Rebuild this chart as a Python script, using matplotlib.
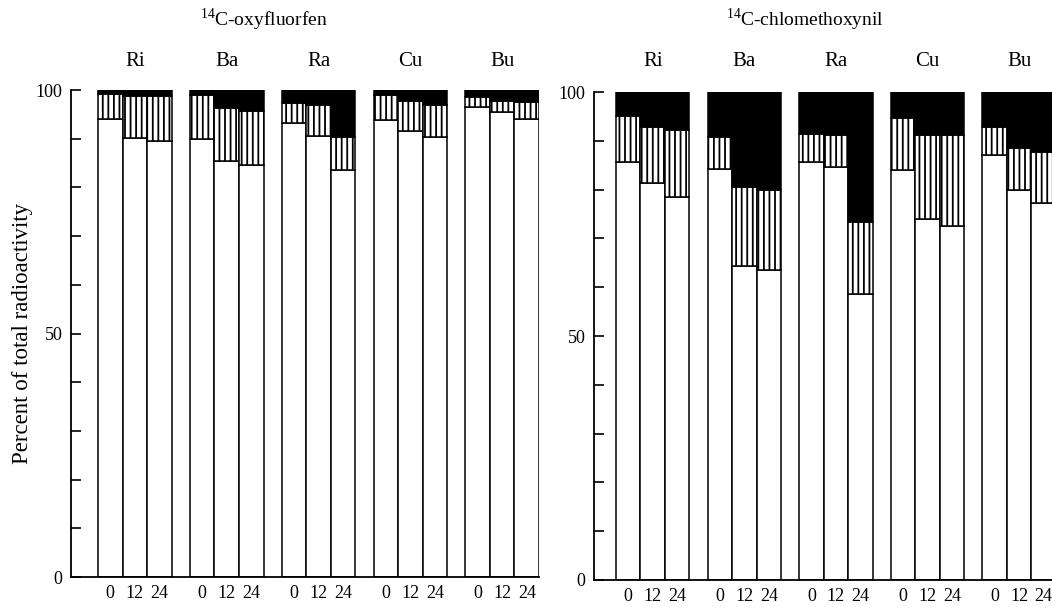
import matplotlib
matplotlib.use('Agg')
import matplotlib.pyplot as plt
import matplotlib.transforms as mtransforms
import numpy as np

plt.rcParams['font.family'] = ['Liberation Serif', 'DejaVu Serif']
plt.rcParams['mathtext.fontset'] = 'custom'
plt.rcParams['mathtext.rm'] = 'Liberation Serif'
plt.rcParams['hatch.linewidth'] = 1.3

plants = ['Ri', 'Ba', 'Ra', 'Cu', 'Bu']
hours = ['0', '12', '24']

# 14C-oxyfluorfen: white = parent, hatched = metabolites, black = bound
oxy_white = [94.1, 90.2, 89.6,  90.0, 85.4, 84.7,  93.3, 90.5, 83.6,
             93.9, 91.5, 90.3,  96.5, 95.4, 94.0]
oxy_hatch = [5.1, 8.5, 9.1,  9.0, 10.9, 10.9,  4.1, 6.5, 6.7,
             5.1, 6.2, 6.7,  2.1, 2.3, 3.5]
oxy_black = [0.8, 1.3, 1.3,  1.0, 3.7, 4.4,  2.6, 3.0, 9.7,
             1.0, 2.3, 3.0,  1.4, 2.3, 2.5]

# 14C-chlomethoxynil
chl_white = [85.6, 81.4, 78.5,  84.3, 64.3, 63.6,  85.6, 84.7, 58.7,
             84.0, 74.0, 72.6,  87.0, 79.9, 77.3]
chl_hatch = [9.4, 11.4, 13.8,  6.4, 16.3, 16.4,  5.7, 6.5, 14.6,
             10.7, 17.2, 18.6,  5.8, 8.6, 10.4]
chl_black = [5.0, 7.2, 7.7,  9.3, 19.4, 20.0,  8.7, 8.8, 26.7,
             5.3, 8.8, 8.8,  7.2, 11.5, 12.3]

step = 3.74
x = np.array([g * step + i for g in range(len(plants)) for i in range(len(hours))])

fig = plt.figure(figsize=(10.52, 6.07), dpi=100)
ax1 = fig.add_axes([0.0675, 0.0494, 0.4449, 0.8023])
ax2 = fig.add_axes([0.5646, 0.0445, 0.4354, 0.8039])


def panel(ax, white, hatch, black, xlim):
    white = np.array(white)
    hatch = np.array(hatch)
    black = np.array(black)
    ax.bar(x, white, width=1, align='edge', color='white',
           edgecolor='black', linewidth=1.1)
    ax.bar(x, hatch, bottom=white, width=1, align='edge', color='white',
           edgecolor='black', hatch='|||', linewidth=1.1)
    ax.bar(x, black, bottom=white + hatch, width=1, align='edge',
           color='black', edgecolor='black', linewidth=1.1)
    ax.set_xlim(*xlim)
    ax.set_ylim(0, 100)
    ax.spines['top'].set_visible(False)
    ax.spines['right'].set_visible(False)
    ax.spines['left'].set_linewidth(1.3)
    ax.spines['bottom'].set_linewidth(1.3)
    ax.set_yticks([0, 50, 100])
    ax.set_yticks(np.arange(10, 100, 10), minor=True)
    ax.tick_params(axis='y', which='both', direction='in', length=7,
                   width=1.2, labelsize=13, pad=6)
    ax.set_xticks(x + 0.5)
    ax.set_xticklabels(hours * len(plants))
    ax.tick_params(axis='x', length=0, labelsize=13, pad=6)
    tr = mtransforms.blended_transform_factory(ax.transData, fig.transFigure)
    for g, p in enumerate(plants):
        ax.text(g * step + 1.5, 0.898, p, transform=tr, ha='center',
                va='center', fontsize=15)


panel(ax1, oxy_white, oxy_hatch, oxy_black, (-1.1, 17.96))
panel(ax2, chl_white, chl_hatch, chl_black, (-0.9, 17.8))

fig.text(0.251, 0.968, r'$^{14}$C-oxyfluorfen', ha='center', va='center',
         fontsize=14)
fig.text(0.765, 0.968, r'$^{14}$C-chlomethoxynil', ha='center', va='center',
         fontsize=14)
fig.text(0.021, 0.451, 'Percent of total radioactivity', rotation=90,
         ha='center', va='center', fontsize=16.5)

fig.savefig('out.png', dpi=100)
